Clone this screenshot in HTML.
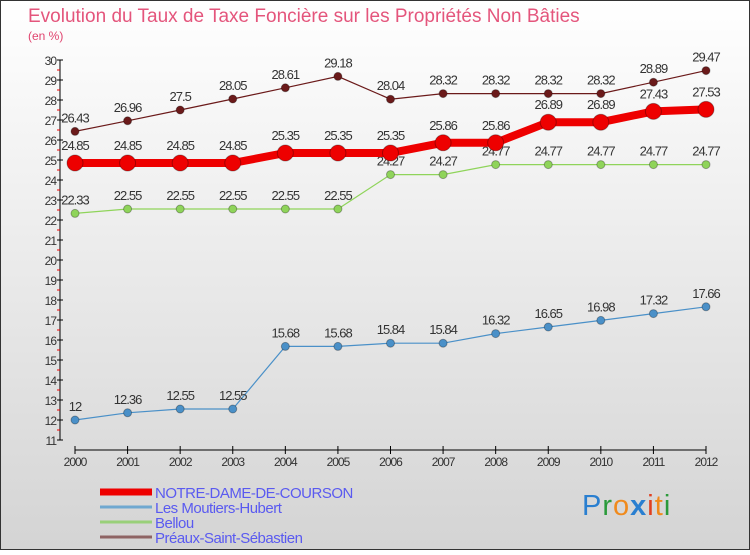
<!DOCTYPE html>
<html><head><meta charset="utf-8"><style>
body{margin:0}
#c{width:750px;height:550px;position:relative;font-family:"Liberation Sans",sans-serif}
</style></head><body>
<div id="c">
<svg id="s" width="750" height="550">
<defs><linearGradient id="bg" x1="0" y1="0" x2="0" y2="1"><stop offset="0" stop-color="#ffffff"/><stop offset="1" stop-color="#d4d4d4"/></linearGradient></defs>
<rect x="0.5" y="0.5" width="749" height="549" fill="url(#bg)" stroke="#333"/>
<text x="28" y="22" font-size="19" fill="#e4557c">Evolution du Taux de Taxe Foncière sur les Propriétés Non Bâties</text>
<text x="28" y="40" font-size="12" fill="#e0436e">(en %)</text>
<g id="g"></g>
<text x="582" y="515" font-size="29" fill="#2a7fd0" letter-spacing="1">P<tspan fill="#2a9a3a">r</tspan><tspan fill="#f08a1c">o</tspan><tspan fill="#2a7fd0" font-weight="bold">x</tspan><tspan fill="#e04020">i</tspan><tspan fill="#f08a1c">t</tspan><tspan fill="#2a9a3a">i</tspan></text>
</svg></div>
<script>
const years=[2000,2001,2002,2003,2004,2005,2006,2007,2008,2009,2010,2011,2012];
const notre=[24.85,24.85,24.85,24.85,25.35,25.35,25.35,25.86,25.86,26.89,26.89,27.43,27.53];
const moutiers=[12,12.36,12.55,12.55,15.68,15.68,15.84,15.84,16.32,16.65,16.98,17.32,17.66];
const bellou=[22.33,22.55,22.55,22.55,22.55,22.55,24.27,24.27,24.77,24.77,24.77,24.77,24.77];
const preaux=[26.43,26.96,27.5,28.05,28.61,29.18,28.04,28.32,28.32,28.32,28.32,28.89,29.47];
const yTicks=[11,12,13,14,15,16,17,18,19,20,21,22,23,24,25,26,27,28,29,30];
const names=["NOTRE-DAME-DE-COURSON","Les Moutiers-Hubert","Bellou","Préaux-Saint-Sébastien"];
const NS="http://www.w3.org/2000/svg";
const g=document.getElementById('g');
const X=i=>75+i*(631/12);
const Y=v=>60+(30-v)*20;
function el(t,a,p){const e=document.createElementNS(NS,t);for(const k in a)e.setAttribute(k,a[k]);(p||g).appendChild(e);return e;}
let ax=el('line',{x1:60,y1:60,x2:60,y2:440,stroke:'#000'});


yTicks.forEach(v=>{
 el('line',{x1:57,y1:Y(v),x2:63,y2:Y(v),stroke:'#000'});
 if(v<30)el('line',{x1:57,y1:Y(v+0.5),x2:60,y2:Y(v+0.5),stroke:'#e00'});
 const t=el('text',{x:56,y:Y(v)+5,'font-size':12,'text-anchor':'end',fill:'#333','letter-spacing':'-1'});
 t.textContent=v;
 
 
});
let xa=el('line',{x1:75,y1:450,x2:706,y2:450,stroke:'#000'});


years.forEach((yr,i)=>{
 el('line',{x1:X(i),y1:446,x2:X(i),y2:454,stroke:'#000'});
 const t=el('text',{x:X(i),y:466,'font-size':12,'text-anchor':'middle',fill:'#333','letter-spacing':'-1'});
 t.textContent=yr;
 
 
});
function series(data,color,lw,r,name){
 const grp=el('g',{});
 
 
 el('polyline',{points:data.map((v,i)=>X(i)+','+Y(v)).join(' '),fill:'none',stroke:color,'stroke-width':lw},grp);
 data.forEach((v,i)=>{
  const c=el('circle',{cx:X(i),cy:Y(v),r:r,fill:color,stroke:'rgba(0,0,0,0.3)'},grp);
  
  
  const t=el('text',{x:X(i),y:Y(v)-(r+5),'font-size':13,'text-anchor':'middle',fill:'#333','letter-spacing':'-1'},grp);
  t.textContent=v;
  
  
 });
}
series(preaux,'#6b1a1a',1.2,4,'series-preaux');
series(bellou,'#8fd45a',1.2,4,'series-bellou');
series(moutiers,'#4a90c8',1.2,4,'series-moutiers');
series(notre,'#ee0000',8,8,'series-notre-dame');
const lc=['#ee0000','#6fa8d0','#99d07a','#8e6464'],lw=[7,3,3,3];
names.forEach((n,i)=>{
 const y=492+i*15;
 const l=el('line',{x1:100,y1:y,x2:152,y2:y,stroke:lc[i],'stroke-width':lw[i]});
 
 
 const t=el('text',{x:155,y:y+6,'font-size':15,fill:'#5a5af0','letter-spacing':'-0.5'});
 t.textContent=n;
 
 
});
</script>
</body></html>
